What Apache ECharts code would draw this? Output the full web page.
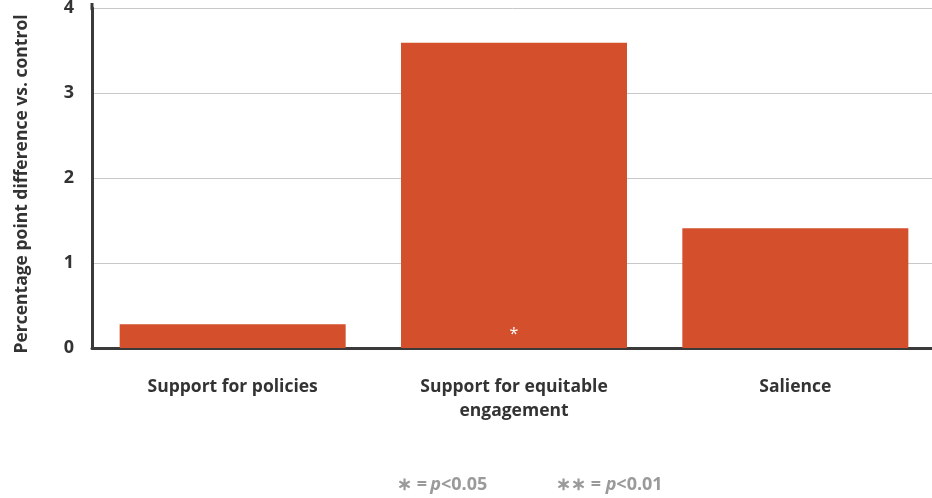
<!DOCTYPE html>
<html><head><meta charset="utf-8">
<script src="https://cdn.jsdelivr.net/npm/echarts@6/dist/echarts.min.js"></script>
<style>html,body{margin:0;padding:0;background:#fff}#c{width:932px;height:498px}</style>
</head><body><div id="c"></div>
<script>
const categories = ['Support for policies', 'Support for equitable\nengagement', 'Salience'];
const values = [0.28, 3.59, 1.41];
const sigLabels = ['', '*', ''];
const yTicks = [0, 1, 2, 3, 4];
const yAxisTitle = 'Percentage point difference vs. control';

const chart = echarts.init(document.getElementById('c'));
const F = '"Open Sans", "Noto Sans", sans-serif';
const rich = {
  a: { fill: '#9a9a9a', fontFamily: F, fontWeight: 'bold', fontSize: 18 },
  i: { fill: '#9a9a9a', fontFamily: F, fontWeight: 'bold', fontStyle: 'italic', fontSize: 18 }
};
chart.setOption({
  animation: false,
  grid: { left: 92, width: 844, top: 8, height: 340, outerBoundsMode: 'none', containLabel: false },
  xAxis: {
    type: 'category', data: categories,
    axisLine: { lineStyle: { color: '#3a3a3a', width: 3 } },
    axisTick: { show: false },
    axisLabel: { color: '#333', fontFamily: F, fontWeight: 'bold', fontSize: 17.5, lineHeight: 24, margin: 27 }
  },
  yAxis: {
    type: 'value', min: 0, max: 4, interval: 1,
    axisLine: { show: true, lineStyle: { color: '#3a3a3a', width: 3 } },
    axisTick: { show: false },
    axisLabel: { color: '#333', fontFamily: F, fontWeight: 'bold', fontSize: 18, margin: 18,
      padding: [6, 0, 0, 0],
      formatter: v => yTicks.includes(v) ? String(v) : '' },
    splitLine: { lineStyle: { color: '#c8c8c8', width: 1 } }
  },
  series: [{
    type: 'bar', data: values, barWidth: 226,
    itemStyle: { color: '#d44f2b' },
    label: { show: true, position: 'insideBottom', distance: 6, color: '#fff', fontFamily: F, fontSize: 16,
      formatter: p => sigLabels[p.dataIndex] }
  }],
  graphic: [
    { type: 'line', shape: { x1: 92, y1: 3, x2: 92, y2: 10 }, style: { stroke: '#3a3a3a', lineWidth: 3 } },
    { type: 'text', x: 22, y: 184, rotation: Math.PI / 2,
      style: { text: yAxisTitle, fill: '#333', font: 'bold 17.5px ' + F, align: 'center', verticalAlign: 'middle' } },
    { type: 'text', x: 397, y: 476, style: { text: '{a|∗ =} {i|p}{a|<0.05}', rich } },
    { type: 'text', x: 556, y: 476, style: { text: '{a|∗∗ = }{i|p}{a|<0.01}', rich } }
  ]
});
</script></body></html>
